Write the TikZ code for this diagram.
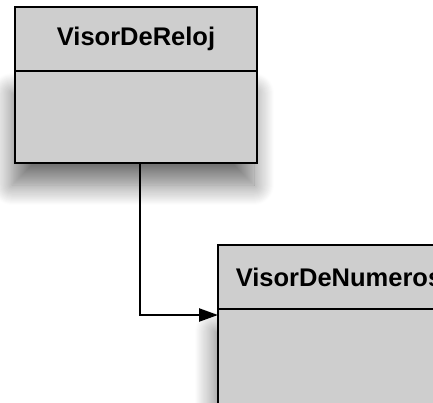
\documentclass[tikz,border=0pt]{standalone}
\usepackage{fontspec}
\setmainfont{Liberation Sans}
\usepackage{tikz}
\usetikzlibrary{positioning,arrows.meta,shadows.blur,calc}
\definecolor{classgray}{RGB}{206,206,206}
\tikzset{
    >={Triangle[length=19pt,width=13pt]},
    classbox/.style={
        rectangle,
        draw=black, line width=2.4pt,
        fill=classgray,
        minimum width=242pt,
        outer sep=0pt
    },
    classtitle/.style={classbox, minimum height=64pt,
        font={\fontsize{25.5pt}{28pt}\selectfont\bfseries}},
    classbody/.style={classbox,
        blur shadow={shadow xshift=-3pt, shadow yshift=-22pt,
            shadow blur radius=20pt, shadow blur steps=20,
            shadow opacity=55}},
    line/.style={draw, line width=2.4pt, ->},
}
\begin{document}
\begin{tikzpicture}
\useasboundingbox (0,0) rectangle (433pt,-402pt);
\clip (0,0) rectangle (433pt,-402pt);
% clase de arriba
\node[classtitle] (reloj) at (136pt,-39pt) {VisorDeReloj};
\node[classbody, minimum height=92pt, below=0pt of reloj] (relojBody) {};
% clase de abajo, cortada a la derecha
\node[classtitle] (numeros) at (339pt,-277pt) {VisorDeNumeros};
\node[classbody, minimum height=110pt, below=0pt of numeros] (numerosBody) {};
% asociacion
\draw[line] ([xshift=4pt]relojBody.south) |- ([yshift=-6pt]numeros.south west);
\end{tikzpicture}
\end{document}
